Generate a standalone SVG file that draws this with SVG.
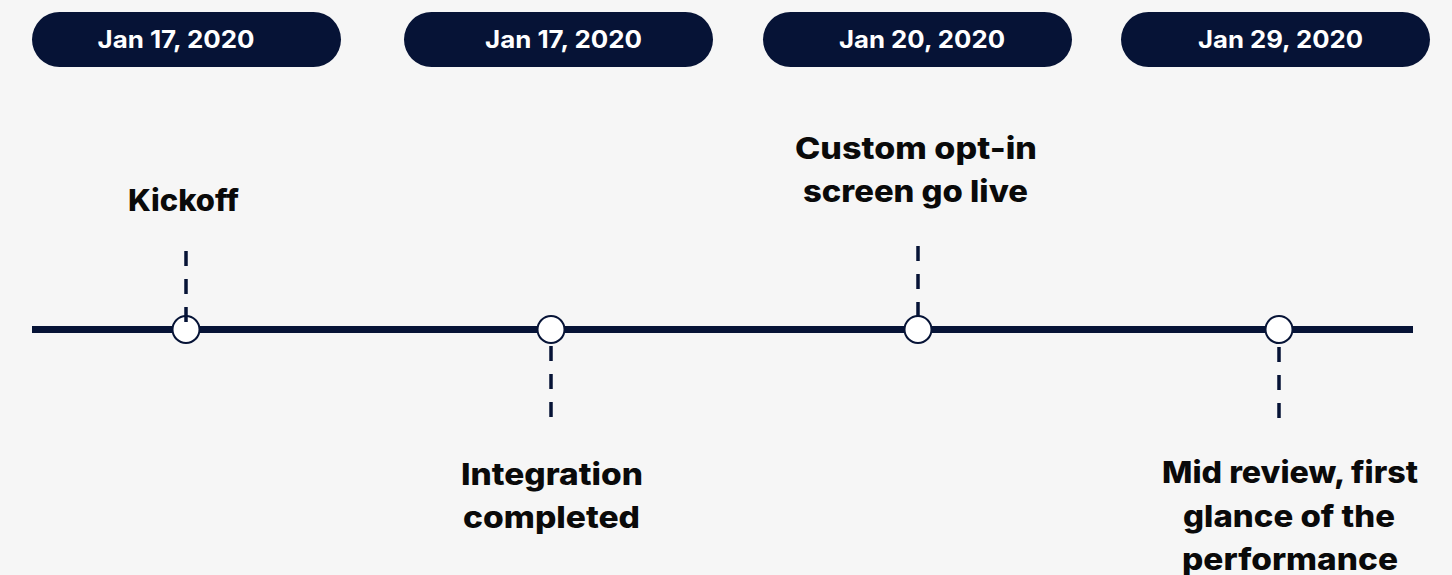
<svg xmlns="http://www.w3.org/2000/svg" width="1452" height="575" viewBox="0 0 1452 575">
  <style>
    .pill { fill: #061336; }
    .date { fill: #ffffff; font-family: "Inter", "Liberation Sans", sans-serif; font-weight: 700; font-size: 24px; text-anchor: middle; }
    .label { fill: #0a0a0a; font-family: "Inter", "Liberation Sans", sans-serif; font-weight: 800; font-size: 30px; text-anchor: middle; }
    .axis { stroke: #061336; stroke-width: 7; stroke-linecap: butt; fill: none; }
    .dot { fill: #ffffff; stroke: #061336; stroke-width: 2; }
    .tick { stroke: #061336; stroke-width: 3.5; stroke-dasharray: 15 13; fill: none; }
  </style>
  <rect width="1452" height="575" fill="#f6f6f6"/>

  <!-- date headers -->
  <g id="date-1"><rect class="pill" x="32" y="12" width="309" height="55" rx="27.5"/><text class="date" x="176" y="48" textLength="157" lengthAdjust="spacingAndGlyphs">Jan 17, 2020</text></g>
  <g id="date-2"><rect class="pill" x="404" y="12" width="309" height="55" rx="27.5"/><text class="date" x="563.5" y="48" textLength="157" lengthAdjust="spacingAndGlyphs">Jan 17, 2020</text></g>
  <g id="date-3"><rect class="pill" x="763" y="12" width="309" height="55" rx="27.5"/><text class="date" x="922" y="48" textLength="166" lengthAdjust="spacingAndGlyphs">Jan 20, 2020</text></g>
  <g id="date-4"><rect class="pill" x="1121" y="12" width="309" height="55" rx="27.5"/><text class="date" x="1280.5" y="48" textLength="165" lengthAdjust="spacingAndGlyphs">Jan 29, 2020</text></g>

  <!-- timeline axis -->
  <g id="connectors">
    <line class="axis" x1="32" y1="329.5" x2="1413" y2="329.5"/>
  </g>

  <g id="kickoff">
    <circle class="dot" cx="186" cy="329.5" r="13.5"/>
    <line class="tick" x1="186" y1="251" x2="186" y2="322"/>
    <text class="label" x="183.5" y="211" textLength="111" lengthAdjust="spacingAndGlyphs">Kickoff</text>
  </g>

  <g id="integration">
    <circle class="dot" cx="551" cy="329.5" r="13.5"/>
    <line class="tick" x1="551" y1="346" x2="551" y2="418"/>
    <text class="label" x="552" y="485" textLength="182" lengthAdjust="spacingAndGlyphs">Integration</text>
    <text class="label" x="551.5" y="528" textLength="177" lengthAdjust="spacingAndGlyphs">completed</text>
  </g>

  <g id="opt-in">
    <circle class="dot" cx="918" cy="329.5" r="13.5"/>
    <line class="tick" x1="918" y1="246" x2="918" y2="317"/>
    <text class="label" x="916" y="159" textLength="242" lengthAdjust="spacingAndGlyphs">Custom opt-in</text>
    <text class="label" x="915.5" y="202" textLength="225" lengthAdjust="spacingAndGlyphs">screen go live</text>
  </g>

  <g id="mid-review">
    <circle class="dot" cx="1279" cy="329.5" r="13.5"/>
    <line class="tick" x1="1279" y1="347" x2="1279" y2="418"/>
    <text class="label" x="1290" y="483" textLength="256" lengthAdjust="spacingAndGlyphs">Mid review, first</text>
    <text class="label" x="1289" y="527" textLength="212" lengthAdjust="spacingAndGlyphs">glance of the</text>
    <text class="label" x="1290" y="570" textLength="216" lengthAdjust="spacingAndGlyphs">performance</text>
  </g>
</svg>
